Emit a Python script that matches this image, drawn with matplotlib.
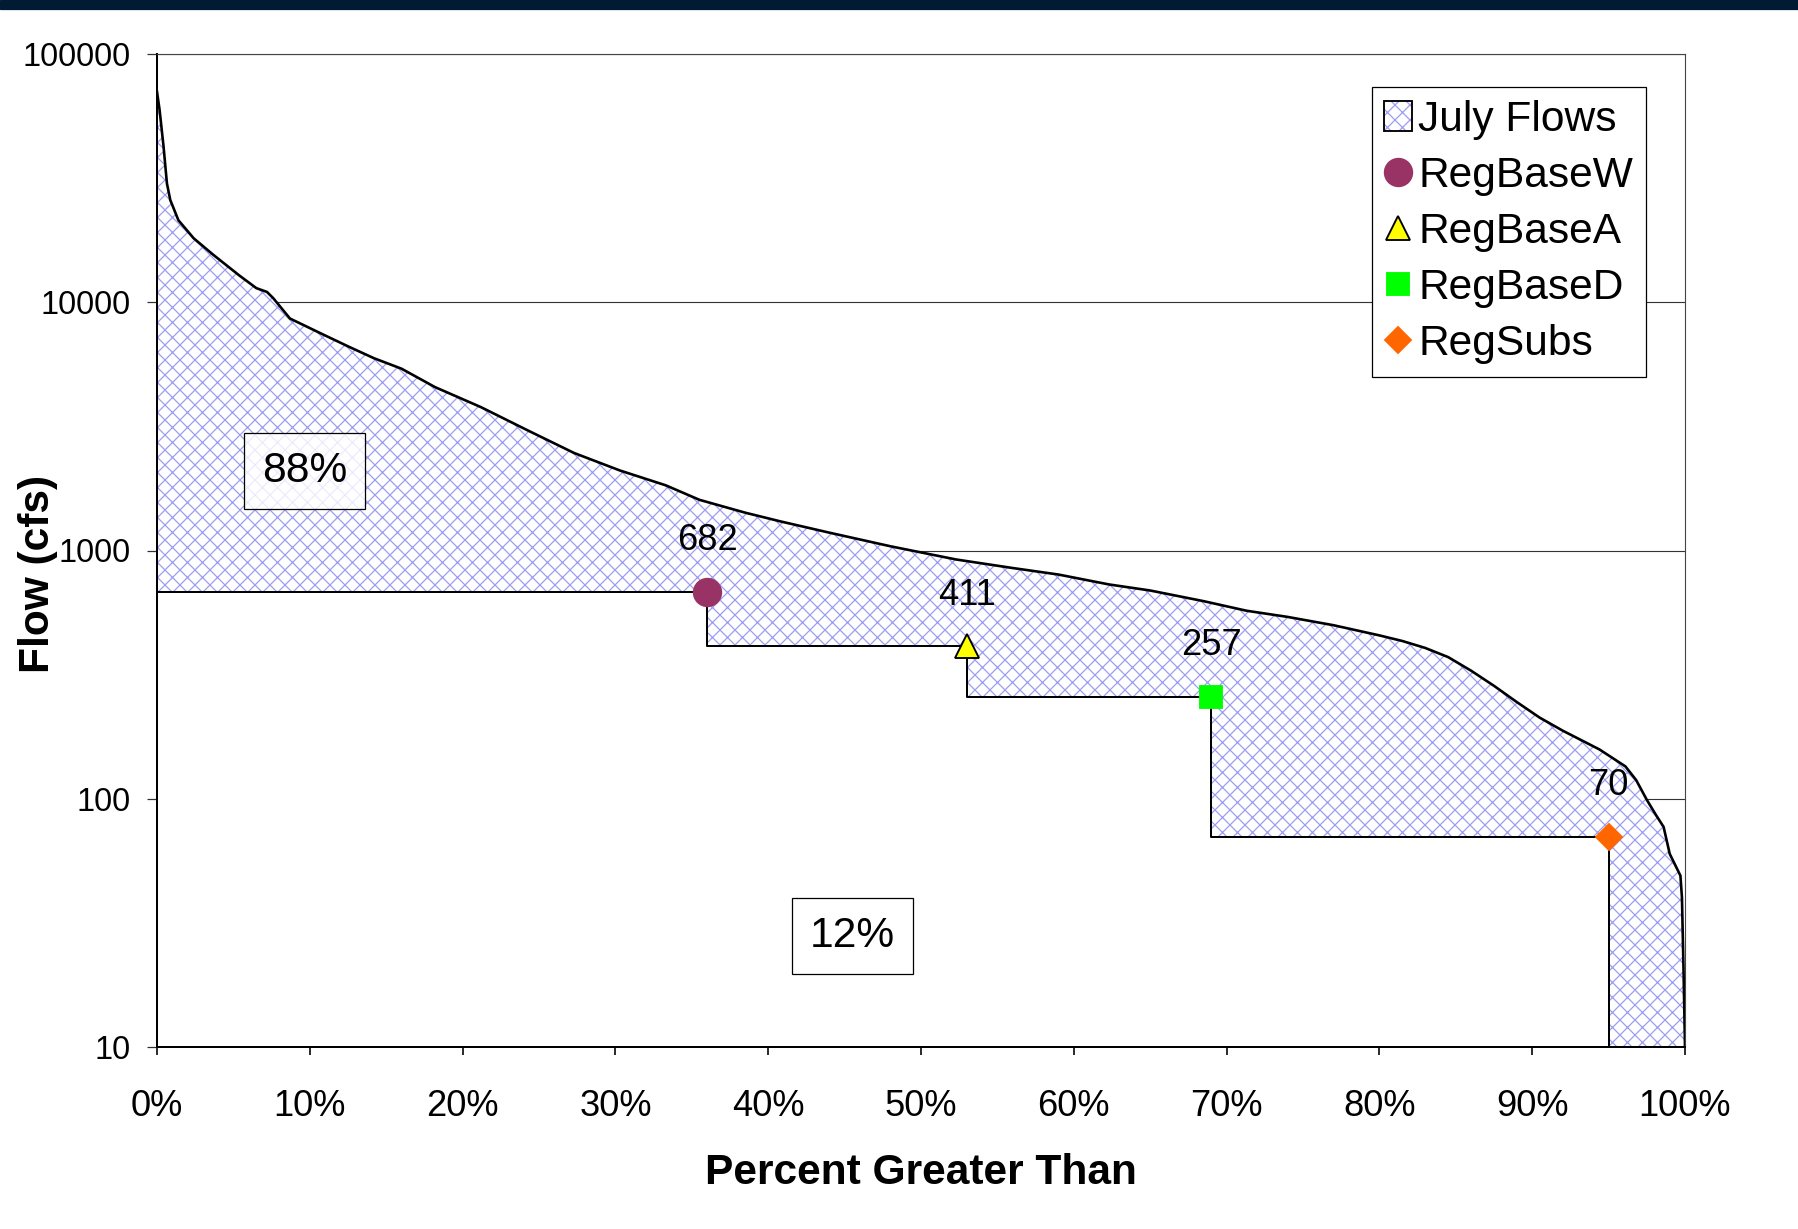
import matplotlib
matplotlib.use('Agg')
import matplotlib.pyplot as plt
from matplotlib.patches import Patch, Rectangle
from matplotlib.lines import Line2D
from matplotlib.legend_handler import HandlerTuple
from matplotlib.ticker import FixedLocator, NullLocator, FuncFormatter

plt.rcParams['font.family'] = ['Liberation Sans', 'DejaVu Sans']
plt.rcParams['hatch.linewidth'] = 1.0

# July flow duration curve (percent exceeded, cfs)
pct = [0, 0.17, 0.43, 0.65, 0.87, 1.4, 2.4, 3.7, 5.4, 6.5, 7.2, 7.6, 8.7, 10.9,
       12.6, 14.2, 16, 18.2, 21.2, 24.2, 27.3, 30.3, 33.3, 35.5, 38.5, 40.8,
       44, 48, 52.3, 56, 59, 62.3, 65, 68.5, 71.3, 74, 77, 80, 81.5, 83, 84.5,
       86, 87.5, 89, 90.5, 92, 94.4, 96.1, 96.8, 97.5, 98.1, 98.6, 99.0, 99.7,
       99.8, 99.9, 100]
flow = [70500, 59500, 42300, 30100, 25800, 21400, 18100, 15500, 12800, 11400,
        11000, 10400, 8600, 7400, 6600, 5950, 5400, 4550, 3780, 3060, 2470,
        2100, 1830, 1600, 1420, 1310, 1180, 1040, 920, 850, 800, 730, 690, 625,
        572, 540, 500, 455, 432, 405, 372, 328, 285, 245, 212, 188, 158, 135,
        119, 99, 86, 77, 60, 49, 40, 21, 10]

# regulation levels
reg_names = ['RegBaseW', 'RegBaseA', 'RegBaseD', 'RegSubs']
reg_pct = [36, 53, 69, 95]
reg_flow = [682, 411, 257, 70]
reg_markers = ['o', '^', 's', 'D']
reg_colors = ['#993366', '#ffff00', '#00ff00', '#ff6600']
reg_sizes = [22, 19, 18, 15]

share_labels = ['88%', '12%']
share_pos = [(9.66, 2090), (45.5, 28)]

hatch_col = '#9c9cf2'
ymin = 10

# step line of the regulated levels
step_x = [0]
step_y = [reg_flow[0]]
for i in range(len(reg_pct)):
    step_x.append(reg_pct[i])
    step_y.append(reg_flow[i])
    step_x.append(reg_pct[i])
    step_y.append(reg_flow[i + 1] if i + 1 < len(reg_flow) else ymin)

fig = plt.figure(figsize=(1799 / 90, 1229 / 90), dpi=90)
fig.add_artist(Rectangle((0, 1 - 9 / 1229), 1, 9 / 1229, transform=fig.transFigure,
                         color='#021b35', zorder=10))
ax = fig.add_axes([157 / 1799, 182 / 1229, 1528 / 1799, 993 / 1229])
ax.set_yscale('log')
ax.set_xlim(0, 100)
ax.set_ylim(ymin, 100000)
ax.set_axisbelow(True)
ax.yaxis.grid(True, which='major', color='#333333', lw=0.9)

# white area under the regulated levels
ax.fill(step_x + [0], step_y + [ymin], facecolor='white', edgecolor='none', zorder=1)
# hatched area between the curve and the regulated levels
ax.fill(pct + step_x[::-1], flow + step_y[::-1], facecolor='white',
        edgecolor=hatch_col, hatch='xx', linewidth=0, zorder=1)

ax.plot(step_x, step_y, color='black', lw=1.6, zorder=3)
ax.plot(pct, flow, color='black', lw=2.1, zorder=3)

handles = [(Patch(facecolor='white', edgecolor=hatch_col, hatch='xx', lw=0),
            Patch(facecolor='none', edgecolor='black', lw=1.5))]
labels = ['July Flows']
for i in range(len(reg_pct)):
    ec = 'black' if reg_markers[i] == '^' else reg_colors[i]
    ax.plot(reg_pct[i], reg_flow[i], marker=reg_markers[i], ms=reg_sizes[i],
            mfc=reg_colors[i], mec=ec, mew=1.5, ls='none', zorder=4)
    ax.annotate(str(reg_flow[i]), (reg_pct[i], reg_flow[i]), xytext=(0, 41),
                textcoords='offset points', ha='center', va='center', fontsize=29,
                zorder=5)
    handles.append(Line2D([], [], marker=reg_markers[i], ms=reg_sizes[i], ls='none',
                          mfc=reg_colors[i], mec=ec, mew=1.5))
    labels.append(reg_names[i])

for lab, (x, y) in zip(share_labels, share_pos):
    ax.text(x, y, lab, ha='center', va='center', fontsize=34, zorder=5,
            bbox=dict(boxstyle='square,pad=0.42', fc=(1, 1, 1, 0.8), ec='black', lw=1))

leg = ax.legend(handles, labels, handler_map={tuple: HandlerTuple(ndivide=1)},
                loc='upper right', bbox_to_anchor=(0.9745, 0.9668), fontsize=34,
                frameon=True, fancybox=False, framealpha=1, edgecolor='black',
                borderpad=0.3, labelspacing=0.38, handlelength=0.65,
                handletextpad=0.15, borderaxespad=0)
leg.get_frame().set_linewidth(1.0)
leg.set_zorder(6)

ax.xaxis.set_major_locator(FixedLocator(list(range(0, 101, 10))))
ax.xaxis.set_major_formatter(FuncFormatter(lambda v, p: '%d%%' % v))
ax.yaxis.set_major_locator(FixedLocator([10, 100, 1000, 10000, 100000]))
ax.yaxis.set_minor_locator(NullLocator())
ax.yaxis.set_major_formatter(FuncFormatter(lambda v, p: '%d' % v))
ax.tick_params(axis='x', direction='inout', length=13, width=1.3, pad=27,
               labelsize=29, color='black')
ax.tick_params(axis='y', direction='out', length=8, width=1.0, pad=13,
               labelsize=26, color='#333333')

for s in ['left', 'bottom']:
    ax.spines[s].set_color('black')
    ax.spines[s].set_linewidth(1.6)
for s in ['top', 'right']:
    ax.spines[s].set_color('#444444')
    ax.spines[s].set_linewidth(0.9)
for s in ax.spines.values():
    s.set_zorder(3.5)

ax.set_xlabel('Percent Greater Than', fontsize=34, fontweight='bold')
ax.set_ylabel('Flow (cfs)', fontsize=34, fontweight='bold')
ax.xaxis.set_label_coords(0.5, -0.1066)
ax.yaxis.set_label_coords(-0.0648, 0.476)

fig.savefig('out.png', dpi=90, facecolor='white')
